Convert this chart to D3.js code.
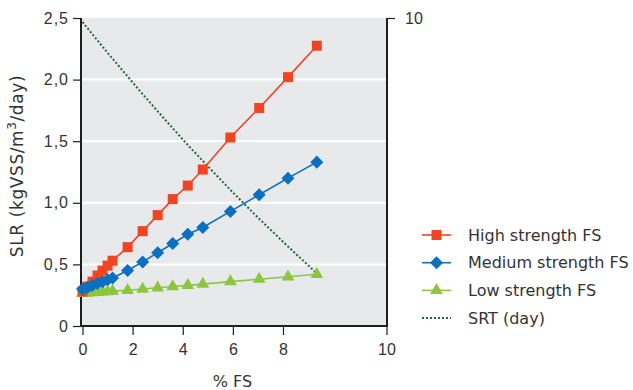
<!DOCTYPE html>
<html>
<head>
<meta charset="utf-8">
<script src="https://cdn.jsdelivr.net/npm/d3@7"></script>
<style>
  html, body { margin: 0; padding: 0; background: #ffffff; }
  svg { display: block; font-family: "DejaVu Sans", "Noto Sans", sans-serif; }
</style>
</head>
<body>
<script>
// % FS values shared by every series
const fsPercent = [0, 0.2, 0.4, 0.6, 0.8, 1.0, 1.2, 1.8, 2.4, 3.0, 3.6, 4.2, 4.8, 5.9, 7.05, 8.2, 9.35];
// Sludge loading rate, kgVSS/m3/day
const highStrength   = [0.28, 0.32, 0.36, 0.41, 0.45, 0.49, 0.53, 0.64, 0.77, 0.90, 1.03, 1.14, 1.27, 1.53, 1.77, 2.02, 2.275];
const mediumStrength = [0.30, 0.315, 0.33, 0.345, 0.36, 0.375, 0.39, 0.45, 0.52, 0.595, 0.67, 0.745, 0.80, 0.93, 1.065, 1.20, 1.33];
const lowStrength    = [0.265, 0.268, 0.271, 0.274, 0.277, 0.28, 0.283, 0.29, 0.30, 0.31, 0.32, 0.33, 0.34, 0.36, 0.38, 0.40, 0.42];
// Solids retention time, days (right axis)
const srtDays        = [9.87, 9.67, 9.47, 9.27, 9.07, 8.87, 8.68, 8.10, 7.53, 6.97, 6.42, 5.88, 5.36, 4.42, 3.48, 2.58, 1.71];

const yTicks = [0, 0.5, 1.0, 1.5, 2.0, 2.5];
const xTicks = [0, 2, 4, 6, 8];
const xEndLabel = "10";
const rightTicks = [10];

const legendLabels = ["High strength FS", "Medium strength FS", "Low strength FS", "SRT (day)"];

const W = 633, H = 390;
const plotL = 82, plotR = 387, plotT = 18, plotB = 326;

const svg = d3.select("body").append("svg").attr("width", W).attr("height", H);

const x = d3.scaleLinear().domain([0, 12.15]).range([plotL + 0.5, plotR]);
const y = d3.scaleLinear().domain([0, 2.5]).range([plotB, plotT]);
const y2 = d3.scaleLinear().domain([0, 10]).range([plotB, plotT]);

const textColor = "#333333";
const axisColor = "#1e1e1e";
const fontSize = 16;

// plot background
svg.append("rect")
  .attr("x", plotL).attr("y", plotT)
  .attr("width", plotR - plotL).attr("height", plotB - plotT)
  .attr("fill", "#e8e9eb");

// horizontal gridlines
svg.append("g").selectAll("line")
  .data(yTicks.filter(d => d > 0 && d < 2.5))
  .join("line")
  .attr("x1", plotL).attr("x2", plotR)
  .attr("y1", d => y(d)).attr("y2", d => y(d))
  .attr("stroke", "#ffffff").attr("stroke-width", 2);

// left axis
const yAxis = svg.append("g")
  .attr("transform", `translate(${plotL - 1},0)`)
  .call(d3.axisLeft(y).tickValues(yTicks).tickSize(8).tickPadding(4)
    .tickFormat(d => d === 0 ? "0" : d3.format(".1f")(d).replace(".", ",")));
yAxis.select(".domain").attr("stroke", axisColor).attr("stroke-width", 2)
  .attr("d", `M0,${plotT}V${plotB + 1}`);
yAxis.selectAll(".tick line").attr("stroke", axisColor).attr("stroke-width", 1.2);
yAxis.selectAll(".tick text").attr("fill", textColor).attr("font-size", fontSize)
  .attr("letter-spacing", 1);

// right axis (SRT)
const y2Axis = svg.append("g")
  .attr("transform", `translate(${plotR},0)`)
  .call(d3.axisRight(y2).tickValues(rightTicks).tickSize(8).tickPadding(10));
y2Axis.select(".domain").attr("stroke", axisColor).attr("stroke-width", 2)
  .attr("d", `M0,${plotT}V${plotB + 1}`);
y2Axis.selectAll(".tick line").attr("stroke", axisColor).attr("stroke-width", 1.2);
y2Axis.selectAll(".tick text").attr("fill", textColor).attr("font-size", fontSize);

// bottom axis
const xAxis = svg.append("g")
  .attr("transform", `translate(0,${plotB})`)
  .call(d3.axisBottom(x).tickValues(xTicks).tickSize(9).tickPadding(9).tickFormat(d3.format("d")));
xAxis.select(".domain").attr("stroke", axisColor).attr("stroke-width", 2)
  .attr("d", `M${plotL - 2},0H${plotR + 1}`);
xAxis.selectAll(".tick line").attr("stroke", axisColor).attr("stroke-width", 1.2);
xAxis.selectAll(".tick text").attr("fill", textColor).attr("font-size", fontSize);
// end-of-axis tick at the right edge
const endTick = xAxis.append("g").attr("transform", `translate(${plotR},0)`);
endTick.append("line").attr("y2", 9).attr("stroke", axisColor).attr("stroke-width", 1.2);
endTick.append("text").attr("y", 18).attr("dy", "0.71em").attr("text-anchor", "middle")
  .attr("fill", textColor).attr("font-size", fontSize).text(xEndLabel);

// axis titles
svg.append("text")
  .attr("x", (plotL + plotR) / 2 - 2).attr("y", 387)
  .attr("text-anchor", "middle").attr("fill", textColor).attr("font-size", fontSize)
  .text("% FS");

const yTitle = svg.append("text")
  .attr("transform", `translate(23,166) rotate(-90)`)
  .attr("text-anchor", "middle").attr("fill", textColor).attr("font-size", 17)
  .attr("letter-spacing", 0.6);
yTitle.append("tspan").text("SLR (kgVSS/m");
yTitle.append("tspan").attr("baseline-shift", "super").attr("font-size", 12).text("3");
yTitle.append("tspan").text("/day)");

// SRT dotted line
const srtColor = "#1f6b3c";
svg.append("path")
  .datum(fsPercent.map((d, i) => [d, srtDays[i]]))
  .attr("fill", "none").attr("stroke", srtColor).attr("stroke-width", 2)
  .attr("stroke-dasharray", "2,2")
  .attr("d", d3.line().x(d => x(d[0])).y(d => y2(d[1])));

// diamond = square turned 45 degrees
const markers = {
  high:   { color: "#f04422", shape: d3.symbolSquare,   size: 100, rot: 0 },
  medium: { color: "#0a70bf", shape: d3.symbolSquare,   size: 85,  rot: 45 },
  low:    { color: "#8cc63f", shape: d3.symbolTriangle, size: 70,  rot: 0 }
};

const series = [
  { name: legendLabels[2], values: lowStrength,    m: markers.low },
  { name: legendLabels[0], values: highStrength,   m: markers.high },
  { name: legendLabels[1], values: mediumStrength, m: markers.medium }
];

const line = d3.line().x(d => x(d[0])).y(d => y(d[1]));
series.forEach(s => {
  const pts = fsPercent.map((d, i) => [d, s.values[i]]);
  const g = svg.append("g");
  g.append("path").datum(pts)
    .attr("fill", "none").attr("stroke", s.m.color).attr("stroke-width", 1.6)
    .attr("d", line);
  g.selectAll("path.m").data(pts).join("path").attr("class", "m")
    .attr("transform", d => `translate(${x(d[0])},${y(d[1])}) rotate(${s.m.rot})`)
    .attr("d", d3.symbol().type(s.m.shape).size(s.m.size))
    .attr("fill", s.m.color);
});

// legend
const legendItems = [
  { label: legendLabels[0], m: markers.high },
  { label: legendLabels[1], m: markers.medium },
  { label: legendLabels[2], m: markers.low },
  { label: legendLabels[3], m: null }
];
const lg = svg.append("g");
legendItems.forEach((it, i) => {
  const cy = 235 + i * 27.7;
  const row = lg.append("g").attr("transform", `translate(0,${cy})`);
  if (it.m) {
    row.append("line").attr("x1", 422).attr("x2", 451)
      .attr("stroke", it.m.color).attr("stroke-width", 1.6);
    row.append("path").attr("transform", `translate(436.5,0) rotate(${it.m.rot})`)
      .attr("d", d3.symbol().type(it.m.shape).size(it.m.size)).attr("fill", it.m.color);
  } else {
    row.append("line").attr("x1", 422).attr("x2", 451)
      .attr("stroke", srtColor).attr("stroke-width", 2).attr("stroke-dasharray", "2,2");
  }
  row.append("text").attr("x", 468).attr("dy", "0.35em")
    .attr("fill", textColor).attr("font-size", fontSize).text(it.label);
});
</script>
</body>
</html>
